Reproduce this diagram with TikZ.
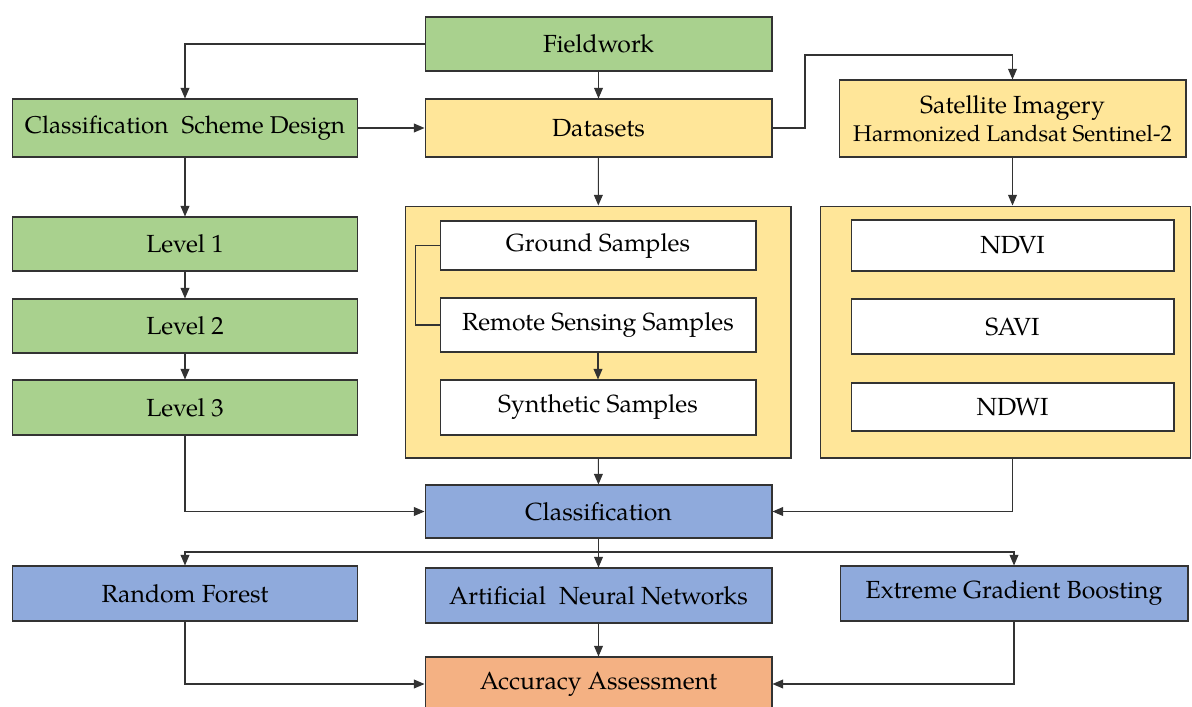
\documentclass[tikz,border=0pt]{standalone}
\usepackage{fontspec}
\setmainfont{TeX Gyre Pagella}
\usetikzlibrary{arrows.meta}

\definecolor{boxgreen}{HTML}{A9D18E}
\definecolor{boxyellow}{HTML}{FFE699}
\definecolor{boxblue}{HTML}{8FAADC}
\definecolor{boxorange}{HTML}{F4B183}
\definecolor{edgegray}{HTML}{333333}

\tikzset{
  stepbox/.style={draw=edgegray, line width=0.6pt, inner sep=0pt, align=center,
    font=\fontsize{14.1}{17}\selectfont},
  greenbox/.style={stepbox, fill=boxgreen},
  yellowbox/.style={stepbox, fill=boxyellow},
  bluebox/.style={stepbox, fill=boxblue},
  orangebox/.style={stepbox, fill=boxorange},
  whitebox/.style={stepbox, fill=white},
  holder/.style={draw=edgegray, line width=0.6pt, fill=boxyellow, inner sep=0pt},
  link/.style={draw=edgegray, line width=0.6pt},
}

\begin{document}
\begin{tikzpicture}[x=0.02cm, y=-0.02cm, >={Triangle[length=6pt,width=5pt]}]
      \useasboundingbox (0,0) rectangle (1192,706);

      % top rows
      \node[greenbox, minimum width=6.94cm, minimum height=1.08cm] (fieldwork) at (598.5,44) {Fieldwork};
      \node[greenbox, minimum width=6.92cm, minimum height=1.16cm] (scheme) at (185,128) {\fontsize{13.8}{17}\selectfont Classification\hspace{4pt} Scheme Design};
      \node[yellowbox, minimum width=6.94cm, minimum height=1.16cm] (datasets) at (598.5,128) {Datasets};
      \node[yellowbox, minimum width=6.94cm, minimum height=1.54cm] (satellite) at (1012.5,118.5) {Satellite Imagery\\[-1pt] {\fontsize{12.9}{15}\selectfont Harmonized Landsat Sentinel-2}};

      % levels
      \node[greenbox, minimum width=6.92cm, minimum height=1.08cm] (level1) at (185,244) {Level 1};
      \node[greenbox, minimum width=6.92cm, minimum height=1.08cm] (level2) at (185,326) {Level 2};
      \node[greenbox, minimum width=6.92cm, minimum height=1.10cm] (level3) at (185,407.5) {Level 3};

      % containers
      \node[holder, minimum width=7.72cm, minimum height=5.04cm] (samples) at (598,332) {};
      \node[holder, minimum width=7.40cm, minimum height=5.04cm] (indices) at (1005.5,332) {};

      \node[whitebox, minimum width=6.32cm, minimum height=0.98cm] (ground) at (598,245.5) {Ground Samples};
      \node[whitebox, minimum width=6.32cm, minimum height=1.08cm] (remote) at (598,325) {Remote Sensing Samples};
      \node[whitebox, minimum width=6.32cm, minimum height=1.10cm] (synthetic) at (598,407.5) {Synthetic Samples};

      \node[whitebox, minimum width=6.46cm, minimum height=1.02cm] (ndvi) at (1012.5,245.5) {NDVI};
      \node[whitebox, minimum width=6.46cm, minimum height=1.10cm] (savi) at (1012.5,326.5) {SAVI};
      \node[whitebox, minimum width=6.46cm, minimum height=0.96cm] (ndwi) at (1012.5,407) {NDWI};

      % classification and models
      \node[bluebox, minimum width=6.94cm, minimum height=1.06cm] (classification) at (598.5,511.5) {Classification};
      \node[bluebox, minimum width=6.92cm, minimum height=1.10cm] (forest) at (185,593.5) {Random Forest};
      \node[bluebox, minimum width=6.94cm, minimum height=1.10cm] (neural) at (598.5,595.5) {Artificial\hspace{4pt} Neural Networks};
      \node[bluebox, minimum width=6.96cm, minimum height=1.10cm] (boosting) at (1014,593.5) {Extreme Gradient Boosting};
      \node[orangebox, minimum width=6.94cm, minimum height=1.08cm] (accuracy) at (598.5,684) {Accuracy Assessment};

      \coordinate (dsbend) at (805,55);
      \coordinate (split) at (598.5,552);

      \draw[link, ->] (fieldwork.west) -| (scheme.north);
      \draw[link, ->] (fieldwork) -- (datasets);
      \draw[link, ->] (scheme) -- (datasets);
      \draw[link, ->] (datasets.east) -| (dsbend) -| (satellite.north);
      \draw[link, ->] (scheme) -- (level1);
      \draw[link, ->] (level1) -- (level2);
      \draw[link, ->] (level2) -- (level3);
      \draw[link, ->] (datasets) -- (samples);
      \draw[link, ->] (satellite) -- (satellite |- indices.north);
      \draw[link] (ground.west) -- ++(-24,0) |- (remote.west);
      \draw[link, ->] (remote) -- (synthetic);
      \draw[link, ->] (level3.south) |- (classification.west);
      \draw[link, ->] (samples) -- (classification);
      \draw[link, ->] (satellite |- indices.south) |- (classification.east);
      \draw[link] (classification) -- (split);
      \draw[link, ->] (split) -| (forest.north);
      \draw[link, ->] (split) -- (neural);
      \draw[link, ->] (split) -| (boosting.north);
      \draw[link, ->] (forest.south) |- (accuracy.west);
      \draw[link, ->] (neural) -- (accuracy);
      \draw[link, ->] (boosting.south) |- (accuracy.east);
    \end{tikzpicture}
\end{document}
